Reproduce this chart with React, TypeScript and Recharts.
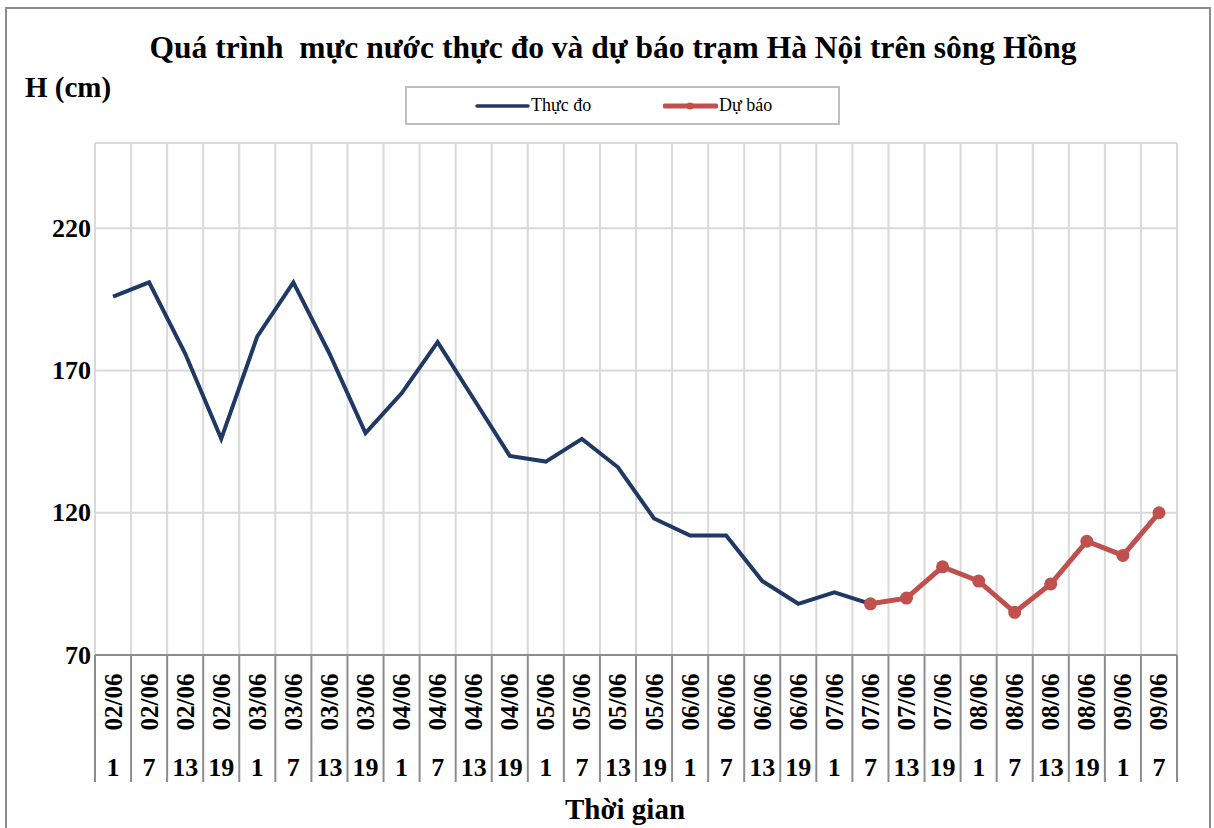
import { LineChart, Line, XAxis, YAxis, CartesianGrid, Legend } from 'recharts';

const DATES = [
  '02/06', '02/06', '02/06', '02/06',
  '03/06', '03/06', '03/06', '03/06',
  '04/06', '04/06', '04/06', '04/06',
  '05/06', '05/06', '05/06', '05/06',
  '06/06', '06/06', '06/06', '06/06',
  '07/06', '07/06', '07/06', '07/06',
  '08/06', '08/06', '08/06', '08/06',
  '09/06', '09/06',
];
const HOURS = [
  '1', '7', '13', '19', '1', '7', '13', '19', '1', '7', '13', '19', '1', '7', '13', '19',
  '1', '7', '13', '19', '1', '7', '13', '19', '1', '7', '13', '19', '1', '7',
];
// thực đo: 02/06 1h -> 07/06 7h
const OBSERVED = [196, 201, 176, 146, 182, 201, 176, 148, 162, 180, 160, 140, 138, 146, 136, 118, 112, 112, 96, 88, 92, 88];
// dự báo: 07/06 7h -> 09/06 7h
const FORECAST = [88, 90, 101, 96, 85, 95, 110, 105, 120];
const Y_TICKS = [70, 120, 170, 220, 250];
const SERIES_ORDER = ['observed', 'forecast'];

const FC_START = OBSERVED.length - 1;
const data = DATES.map((date, i) => ({
  x: i,
  date,
  hour: HOURS[i],
  observed: i < OBSERVED.length ? OBSERVED[i] : null,
  forecast: i >= FC_START ? FORECAST[i - FC_START] : null,
}));
const boundaries = DATES.map((_, i) => i - 0.5).concat([DATES.length - 0.5]);

const W = 1214;
const H = 828;
const M = { top: 143, right: 37, bottom: 43, left: 15 };
const Y_AXIS_W = 80;
const X_AXIS_H = 130;
const PLOT_W = W - M.left - M.right - Y_AXIS_W;
const BAND = PLOT_W / DATES.length;

const FONT = '"Liberation Serif", "Times New Roman", serif';
const BLUE = '#1f3864';
const RED = '#c0504d';

const XTick = (props: any) => {
  const { x, y, payload } = props;
  const idx = Math.round(payload.value + 0.5);
  const cx = x + BAND / 2;
  return (
    <g>
      <line x1={x} x2={x} y1={y} y2={y + 127} stroke="#8c8c8c" strokeWidth={2} />
      {idx < DATES.length && (
        <>
          <text
            x={cx}
            y={y + 47}
            transform={`rotate(-90, ${cx}, ${y + 47})`}
            textAnchor="middle"
            dominantBaseline="central"
            fontFamily={FONT}
            fontWeight="bold"
            fontSize={25}
            fill="#000"
          >
            {DATES[idx]}
          </text>
          <text
            x={cx}
            y={y + 112}
            textAnchor="middle"
            dominantBaseline="central"
            fontFamily={FONT}
            fontWeight="bold"
            fontSize={26}
            fill="#000"
          >
            {HOURS[idx]}
          </text>
        </>
      )}
    </g>
  );
};

const YTick = (props: any) => {
  const { x, y, payload } = props;
  if (payload.value === 250) return <g />;
  return (
    <text
      x={x - 4}
      y={y}
      textAnchor="end"
      dominantBaseline="central"
      fontFamily={FONT}
      fontWeight="bold"
      fontSize={26}
      fill="#000"
    >
      {payload.value}
    </text>
  );
};

const LegendBox = (props: any) => {
  const payload = [...(props.payload || [])].sort(
    (a: any, b: any) => SERIES_ORDER.indexOf(a.dataKey) - SERIES_ORDER.indexOf(b.dataKey),
  );
  return (
    <div
      style={{
        width: 435,
        height: 39,
        boxSizing: 'border-box',
        border: '2px solid #bfbfbf',
        display: 'flex',
        alignItems: 'center',
        paddingLeft: 68,
        fontFamily: FONT,
        fontSize: 18,
      }}
    >
      {payload.map((entry: any) => {
        const isForecast = entry.dataKey === 'forecast';
        return (
          <div key={entry.value} style={{ display: 'flex', alignItems: 'center', width: isForecast ? 'auto' : 188 }}>
            <svg width={55} height={14}>
              <line
                x1={2}
                x2={53}
                y1={7}
                y2={7}
                stroke={entry.color}
                strokeWidth={isForecast ? 5 : 3.5}
                strokeLinecap="round"
              />
              {isForecast && <circle cx={27} cy={7} r={3.5} fill={entry.color} />}
            </svg>
            <span style={{ marginLeft: 1 }}>{entry.value}</span>
          </div>
        );
      })}
    </div>
  );
};

export default function App() {
  return (
    <div
      style={{
        position: 'absolute',
        left: 0,
        top: 0,
        width: W,
        height: H,
        overflow: 'hidden',
        background: '#fff',
        fontFamily: FONT,
      }}
    >
      <div
        style={{
          position: 'absolute',
          left: 5,
          top: 7,
          width: W - 8,
          height: H + 20,
          boxSizing: 'border-box',
          border: '2px solid #8c8c8c',
        }}
      />
      <div
        style={{
          position: 'absolute',
          left: 0,
          width: W,
          top: 32,
          textAlign: 'center',
          fontWeight: 'bold',
          fontSize: 31.5,
          lineHeight: 1,
          paddingLeft: 6,
        }}
      >
        Quá trình&nbsp; mực nước thực đo và dự báo trạm Hà Nội trên sông Hồng
      </div>
      <div style={{ position: 'absolute', left: 25, top: 73, fontWeight: 'bold', fontSize: 29, lineHeight: 1 }}>
        H (cm)
      </div>
      <div
        style={{
          position: 'absolute',
          left: 525,
          width: 200,
          top: 795,
          textAlign: 'center',
          fontWeight: 'bold',
          fontSize: 29,
          lineHeight: 1,
        }}
      >
        Thời gian
      </div>
      <div style={{ position: 'absolute', left: 0, top: 0 }}>
        <LineChart width={W} height={H} data={data} margin={M}>
          <CartesianGrid stroke="#d9d9d9" strokeWidth={2} vertical horizontal />
          <XAxis
            type="number"
            dataKey="x"
            domain={[-0.5, DATES.length - 0.5]}
            ticks={boundaries}
            interval={0}
            height={X_AXIS_H}
            tickLine={false}
            tickSize={0}
            tickMargin={0}
            axisLine={{ stroke: '#8c8c8c', strokeWidth: 2 }}
            tick={<XTick />}
            allowDataOverflow
          />
          <YAxis
            type="number"
            domain={[70, 250]}
            ticks={Y_TICKS}
            interval={0}
            width={Y_AXIS_W}
            axisLine={false}
            tickLine={false}
            tickSize={0}
            tickMargin={0}
            tick={<YTick />}
            allowDataOverflow
          />
          <Legend
            layout="horizontal"
            verticalAlign="middle"
            align="center"
            content={<LegendBox />}
            wrapperStyle={{ position: 'absolute', left: 405, top: 86, width: 435, height: 39 }}
          />
          <Line
            name="Thực đo"
            dataKey="observed"
            stroke={BLUE}
            strokeWidth={4}
            dot={false}
            activeDot={false}
            isAnimationActive={false}
            connectNulls={false}
          />
          <Line
            name="Dự báo"
            dataKey="forecast"
            stroke={RED}
            strokeWidth={5}
            dot={{ r: 6.5, fill: RED, stroke: RED, strokeWidth: 0 }}
            activeDot={false}
            isAnimationActive={false}
            connectNulls={false}
          />
        </LineChart>
      </div>
    </div>
  );
}
